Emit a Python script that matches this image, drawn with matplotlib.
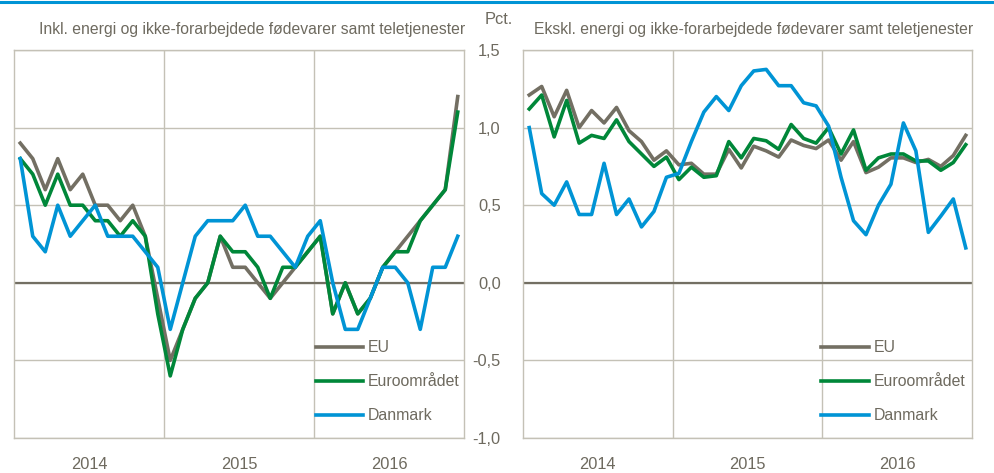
import matplotlib
matplotlib.use("Agg")
import matplotlib.pyplot as plt
from matplotlib.lines import Line2D

# monthly values, jan 2014 - dec 2016 (pct.)
years = ["2014", "2015", "2016"]
series_names = ["EU", "Euroområdet", "Danmark"]

eu_inkl = [0.9, 0.8, 0.6, 0.8, 0.6, 0.7, 0.5, 0.5, 0.4, 0.5, 0.3, -0.1,
           -0.5, -0.3, -0.1, 0.0, 0.3, 0.1, 0.1, 0.0, -0.1, 0.0, 0.1, 0.2,
           0.3, -0.2, 0.0, -0.2, -0.1, 0.1, 0.2, 0.3, 0.4, 0.5, 0.6, 1.2]
euro_inkl = [0.8, 0.7, 0.5, 0.7, 0.5, 0.5, 0.4, 0.4, 0.3, 0.4, 0.3, -0.2,
             -0.6, -0.3, -0.1, 0.0, 0.3, 0.2, 0.2, 0.1, -0.1, 0.1, 0.1, 0.2,
             0.3, -0.2, 0.0, -0.2, -0.1, 0.1, 0.2, 0.2, 0.4, 0.5, 0.6, 1.1]
dk_inkl = [0.8, 0.3, 0.2, 0.5, 0.3, 0.4, 0.5, 0.3, 0.3, 0.3, 0.2, 0.1,
           -0.3, 0.0, 0.3, 0.4, 0.4, 0.4, 0.5, 0.3, 0.3, 0.2, 0.1, 0.3,
           0.4, 0.0, -0.3, -0.3, -0.1, 0.1, 0.1, 0.0, -0.3, 0.1, 0.1, 0.3]

eu_ekskl = [1.21, 1.265, 1.07, 1.24, 1.0, 1.11, 1.03, 1.13, 0.98, 0.91, 0.79, 0.85,
            0.76, 0.77, 0.70, 0.70, 0.86, 0.74, 0.88, 0.85, 0.81, 0.92, 0.885, 0.865,
            0.92, 0.79, 0.91, 0.71, 0.745, 0.805, 0.805, 0.775, 0.795, 0.75, 0.82, 0.95]
euro_ekskl = [1.12, 1.21, 0.94, 1.175, 0.90, 0.95, 0.93, 1.05, 0.91, 0.83, 0.75, 0.81,
              0.665, 0.745, 0.68, 0.69, 0.91, 0.805, 0.93, 0.915, 0.86, 1.02, 0.93, 0.90,
              1.0, 0.83, 0.985, 0.725, 0.805, 0.83, 0.83, 0.785, 0.785, 0.725, 0.775, 0.89]
dk_ekskl = [1.0, 0.575, 0.50, 0.65, 0.44, 0.44, 0.77, 0.44, 0.54, 0.36, 0.46, 0.68,
            0.705, 0.91, 1.10, 1.20, 1.11, 1.27, 1.365, 1.375, 1.27, 1.27, 1.16, 1.14,
            1.01, 0.68, 0.40, 0.31, 0.50, 0.635, 1.03, 0.85, 0.325, 0.43, 0.54, 0.225]

yticks = [-1.0, -0.5, 0.0, 0.5, 1.0, 1.5]
ytick_labels = ["-1,0", "-0,5", "0,0", "0,5", "1,0", "1,5"]

titles = ["Inkl. energi og ikke-forarbejdede fødevarer samt teletjenester",
          "Ekskl. energi og ikke-forarbejdede fødevarer samt teletjenester"]

colors = ["#736F63", "#008739", "#0094D5"]
grid_col = "#C4C1B6"
text_col = "#6E6A5F"

plt.rcParams["font.family"] = ["Liberation Sans", "DejaVu Sans"]
plt.rcParams["font.size"] = 11.3


def style_axis(ax, title):
    n = len(eu_inkl)
    ax.set_xlim(-0.5, n - 0.5)
    ax.set_ylim(-1.0, 1.5)
    ax.set_yticks(yticks)
    ax.tick_params(axis="y", length=0)
    # year borders as major ticks, year names on the minor ticks
    ax.set_xticks([11.5, 23.5])
    ax.set_xticklabels([])
    ax.set_xticks([5.5, 17.5, 29.5], minor=True)
    ax.set_xticklabels(years, minor=True, color=text_col, fontsize=11.8)
    ax.tick_params(axis="x", which="both", length=0, pad=14)
    ax.grid(True, which="major", color=grid_col, linewidth=1.0)
    ax.axhline(0, color="#736F63", linewidth=1.6, zorder=1.5)
    ax.set_axisbelow(True)
    for s in ax.spines.values():
        s.set_color(grid_col)
        s.set_linewidth(1.0)
    ax.text(1.003, 1.052, title, transform=ax.transAxes, ha="right", va="center",
            color=text_col, fontsize=11.3)


fig = plt.figure(figsize=(9.95, 4.73), dpi=100)
ax1 = fig.add_axes([14 / 995, 1 - 438 / 473, 450 / 995, 388 / 473])
ax2 = fig.add_axes([523 / 995, 1 - 438 / 473, 449 / 995, 388 / 473])

x = list(range(len(eu_inkl)))
panels = [(ax1, [eu_inkl, euro_inkl, dk_inkl], titles[0], 0.671),
          (ax2, [eu_ekskl, euro_ekskl, dk_ekskl], titles[1], 0.664)]
for ax, data, title, leg_x in panels:
    for vals, c, name in zip(data, colors, series_names):
        ax.plot(x, vals, color=c, linewidth=2.6, label=name, zorder=3)
    style_axis(ax, title)
    ax.legend(loc="upper left", bbox_to_anchor=(leg_x, 0.252), frameon=False,
              handlelength=3.0, handletextpad=0.3, labelspacing=1.2,
              borderpad=0, borderaxespad=0, fontsize=11.4, labelcolor=text_col)

ax1.set_yticklabels([])
ax2.set_yticklabels(ytick_labels, color=text_col, fontsize=11.8)
ax2.tick_params(axis="y", pad=16)
fig.text(499 / 995, 1 - 19 / 473, "Pct.", ha="center", va="center",
         color=text_col, fontsize=11.8)

# blue rule along the top edge
fig.add_artist(Line2D([0, 1], [1 - 2.5 / 473, 1 - 2.5 / 473], color="#0094D5",
                      linewidth=2.2, transform=fig.transFigure))

fig.savefig("out.png", dpi=100)
